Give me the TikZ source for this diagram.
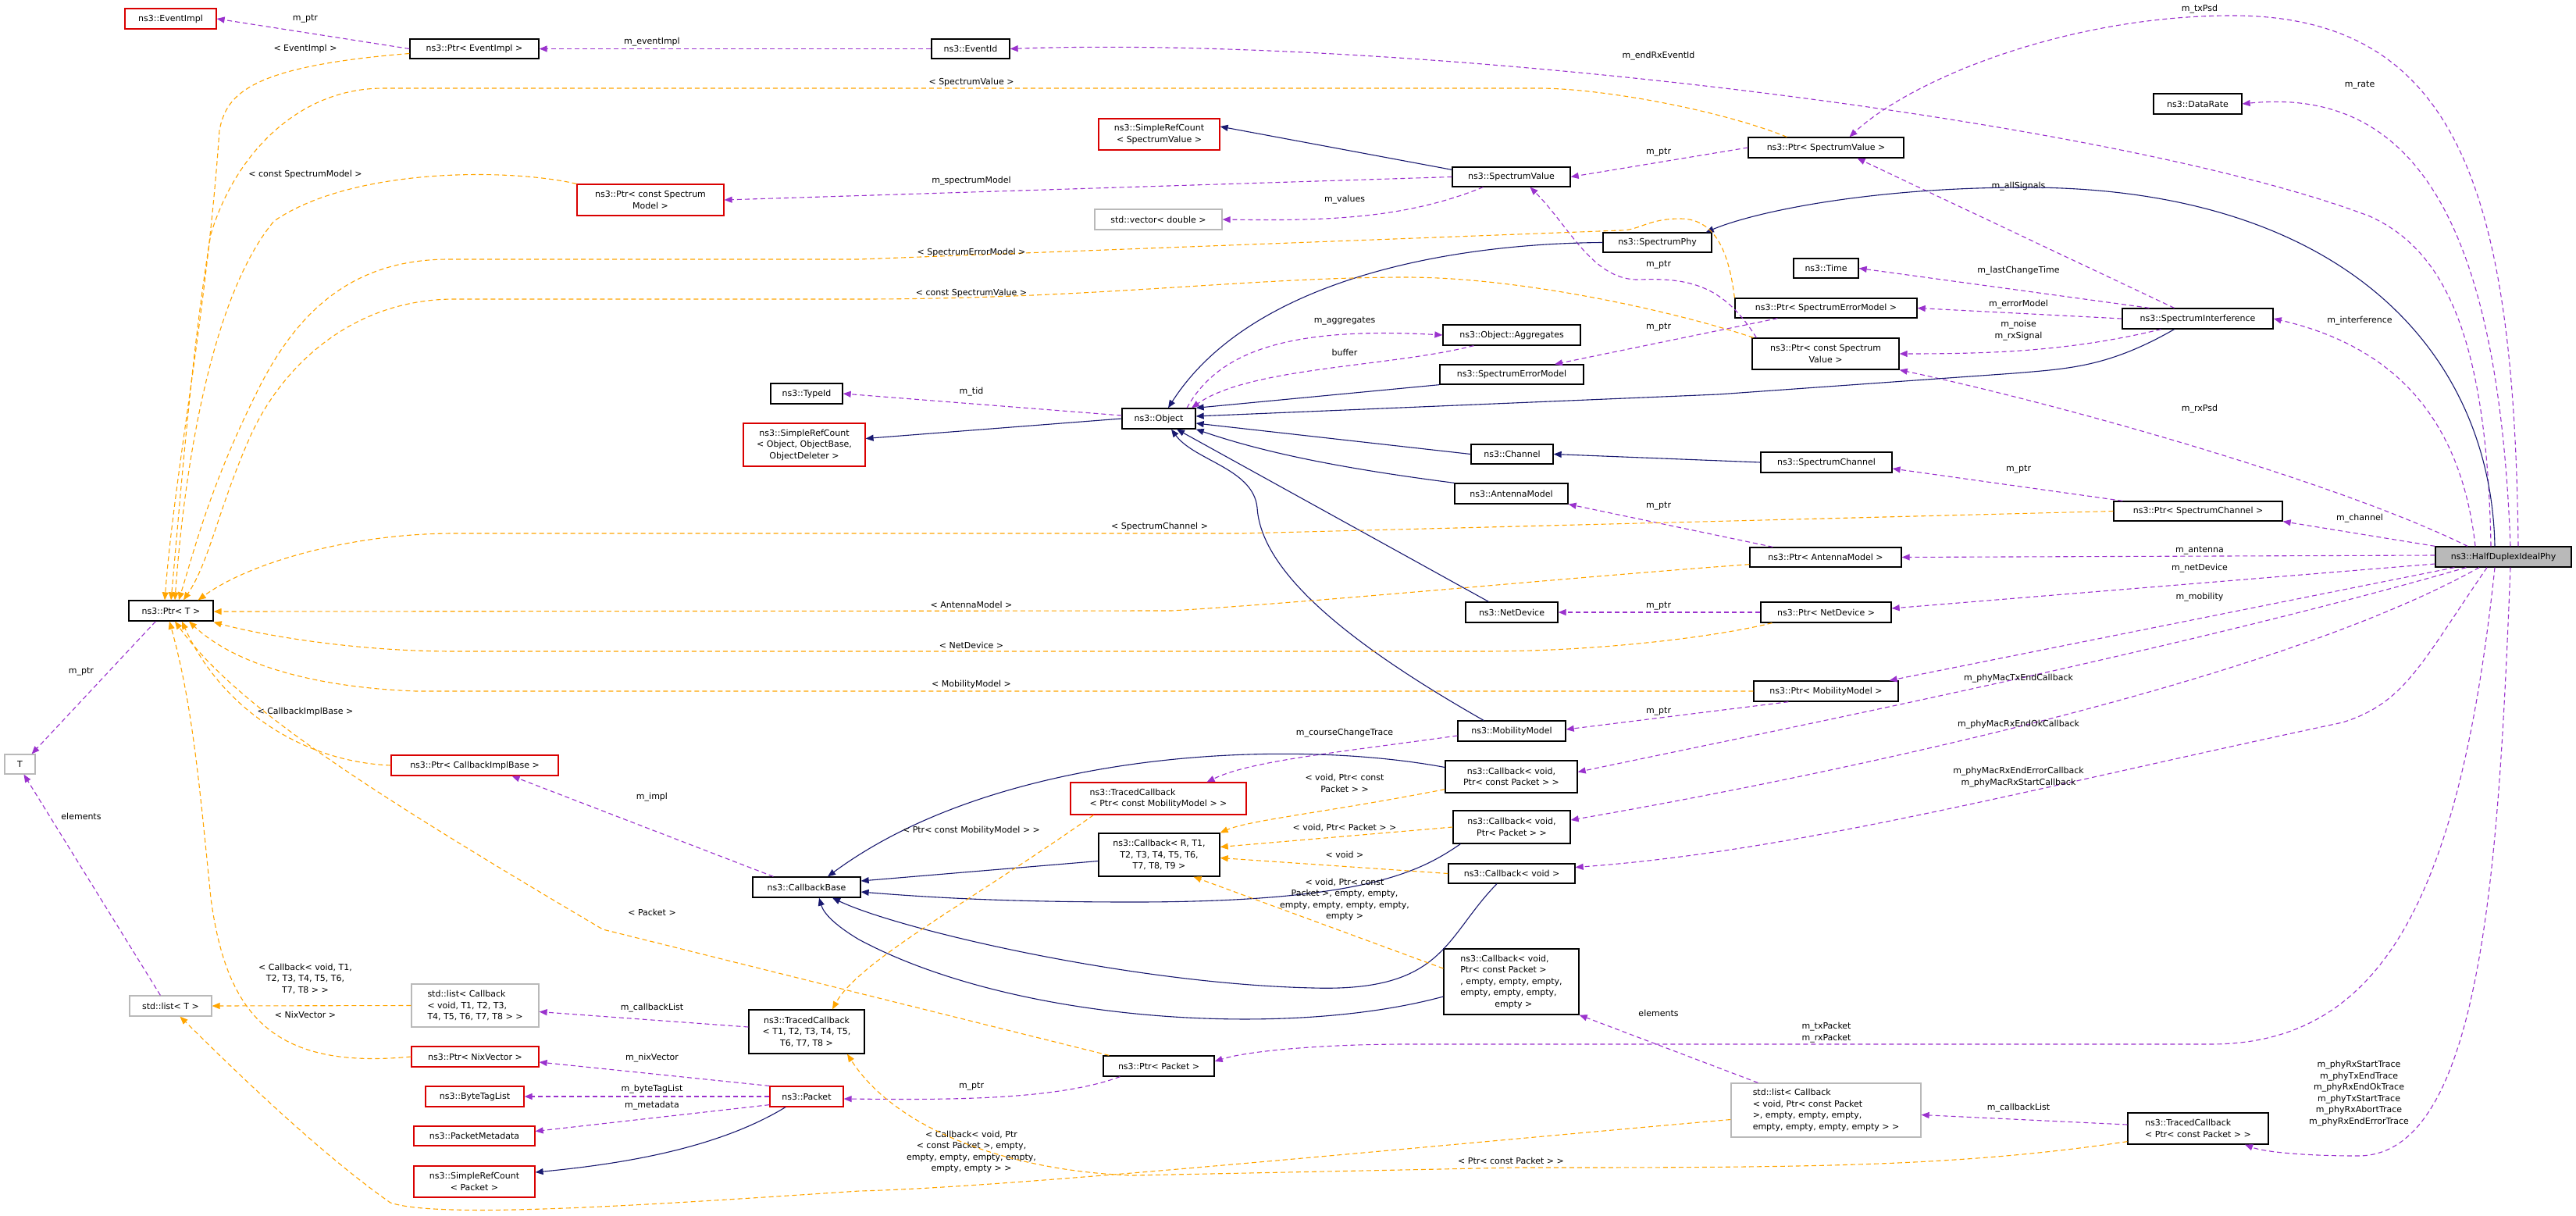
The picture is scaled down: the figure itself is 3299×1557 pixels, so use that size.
\documentclass[tikz,border=0pt]{standalone}
\usepackage{fontspec}
\setmainfont{DejaVu Sans}
\usetikzlibrary{arrows.meta,calc}
\definecolor{inhc}{HTML}{191970}
\definecolor{usec}{HTML}{9A32CD}
\definecolor{tplc}{HTML}{FFA500}
\begin{document}
\begin{tikzpicture}[x=1pt,y=-1pt,
  box/.style={draw=black,line width=1.3pt,rectangle,inner sep=2pt,font=\fontsize{11}{14.5}\selectfont,align=center},
  cls/.style={box},
  redbox/.style={box,draw=red!85!black,line width=1.2pt},
  greybox/.style={box,draw=gray!55,line width=1.2pt},
  lbl/.style={font=\fontsize{11}{14.5}\selectfont,align=center,inner sep=0pt},
  tip/.style={-{Triangle[length=10pt,width=8pt]}},
  inh/.style={tip,draw=inhc,line width=1.1pt},
  use/.style={tip,draw=usec,line width=1.1pt,dash pattern=on 6pt off 4pt},
  tpl/.style={tip,draw=tplc,line width=1.1pt,dash pattern=on 6pt off 4pt}]
\useasboundingbox (0,0) rectangle (3299,1557);
\fill[white] (0,0) rectangle (3299,1557);
% nodes
\node[redbox,minimum width=117,minimum height=26] (EventImpl) at (218.5,24) {ns3::EventImpl};
\node[cls,minimum width=165,minimum height=25] (PtrEI) at (607.5,62.5) {ns3::Ptr< EventImpl >};
\node[redbox,minimum width=188,minimum height=40] (PtrCSM) at (833,256) {ns3::Ptr< const Spectrum\\Model >};
\node[cls,minimum width=92,minimum height=26] (TypeId) at (1033,504) {ns3::TypeId};
\node[cls,minimum width=100,minimum height=25] (EventId) at (1243,62.5) {ns3::EventId};
\node[redbox,minimum width=155,minimum height=40] (SRCSV) at (1484.5,172) {ns3::SimpleRefCount\\< SpectrumValue >};
\node[cls,minimum width=151,minimum height=25] (SV) at (1935.5,226.5) {ns3::SpectrumValue};
\node[greybox,minimum width=163,minimum height=26] (Vec) at (1483.5,281) {std::vector< double >};
\node[cls,minimum width=139,minimum height=25] (SPhy) at (2122.5,310.5) {ns3::SpectrumPhy};
\node[cls,minimum width=176,minimum height=26] (Agg) at (1936,429) {ns3::Object::Aggregates};
\node[cls,minimum width=184,minimum height=25] (SEM) at (1936,479.5) {ns3::SpectrumErrorModel};
\node[cls,minimum width=199,minimum height=26] (PtrSV) at (2338.5,189) {ns3::Ptr< SpectrumValue >};
\node[cls,minimum width=113,minimum height=26] (DataRate) at (2814.5,133) {ns3::DataRate};
\node[cls,minimum width=83,minimum height=25] (Time) at (2338.5,343.5) {ns3::Time};
\node[cls,minimum width=233,minimum height=25] (PtrSEM) at (2338.5,394.5) {ns3::Ptr< SpectrumErrorModel >};
\node[cls,minimum width=193,minimum height=26] (SI) at (2814.5,408) {ns3::SpectrumInterference};
\node[cls,minimum width=188,minimum height=40] (PtrCSV) at (2338,453) {ns3::Ptr< const Spectrum\\Value >};
\node[redbox,minimum width=156,minimum height=55] (SRCObj) at (1030,569.5) {ns3::SimpleRefCount\\< Object, ObjectBase,\\ObjectDeleter >};
\node[cls,minimum width=108,minimum height=26] (PtrT) at (219,782) {ns3::Ptr< T >};
\node[greybox,minimum width=39,minimum height=25] (T) at (25.5,978.5) {T};
\node[redbox,minimum width=214,minimum height=26] (PtrCIB) at (608,980) {ns3::Ptr< CallbackImplBase >};
\node[cls,minimum width=94,minimum height=26] (Object) at (1484,536) {ns3::Object};
\node[cls,minimum width=105,minimum height=25] (Channel) at (1936.5,581.5) {ns3::Channel};
\node[cls,minimum width=145,minimum height=26] (AM) at (1935.5,632) {ns3::AntennaModel};
\node[cls,minimum width=118,minimum height=26] (ND) at (1936,784) {ns3::NetDevice};
\node[cls,minimum width=138,minimum height=26] (MM) at (1936,936) {ns3::MobilityModel};
\node[cls,minimum width=169,minimum height=41] (CbVPCP) at (1935.5,994.5) {ns3::Callback< void,\\Ptr< const Packet > >};
\node[redbox,minimum width=225,minimum height=41,align=left] (TCMob) at (1483.5,1022.5) {ns3::TracedCallback\\< Ptr< const MobilityModel > >};
\node[cls,minimum width=168,minimum height=26] (SC) at (2339,592) {ns3::SpectrumChannel};
\node[cls,minimum width=216,minimum height=25] (PtrSC) at (2815,654.5) {ns3::Ptr< SpectrumChannel >};
\node[cls,minimum width=194,minimum height=25] (PtrAM) at (2338,713.5) {ns3::Ptr< AntennaModel >};
\node[cls,fill=gray!55,minimum width=174,minimum height=26] (HDIP) at (3206,713) {ns3::HalfDuplexIdealPhy};
\node[cls,minimum width=167,minimum height=26] (PtrND) at (2338.5,784) {ns3::Ptr< NetDevice >};
\node[cls,minimum width=185,minimum height=26] (PtrMM) at (2338.5,885) {ns3::Ptr< MobilityModel >};
\node[cls,minimum width=138,minimum height=26] (CB) at (1033,1136) {ns3::CallbackBase};
\node[greybox,minimum width=105,minimum height=26] (ListT) at (218.5,1288) {std::list< T >};
\node[greybox,minimum width=163,minimum height=55,align=left] (ListCb) at (608.5,1287.5) {std::list< Callback\\< void, T1, T2, T3,\\ T4, T5, T6, T7, T8 > >};
\node[cls,minimum width=148,minimum height=56] (TCT) at (1033,1321) {ns3::TracedCallback\\< T1, T2, T3, T4, T5,\\T6, T7, T8 >};
\node[redbox,minimum width=163,minimum height=26] (PtrNix) at (608.5,1353) {ns3::Ptr< NixVector >};
\node[redbox,minimum width=94,minimum height=26] (Packet) at (1033,1404) {ns3::Packet};
\node[redbox,minimum width=126,minimum height=26] (BTL) at (608,1404) {ns3::ByteTagList};
\node[redbox,minimum width=155,minimum height=25] (PM) at (607.5,1454.5) {ns3::PacketMetadata};
\node[redbox,minimum width=155,minimum height=40] (SRCP) at (607.5,1513) {ns3::SimpleRefCount\\< Packet >};
\node[cls,minimum width=155,minimum height=55] (CbR) at (1484.5,1094.5) {ns3::Callback< R, T1,\\T2, T3, T4, T5, T6,\\T7, T8, T9 >};
\node[cls,minimum width=150,minimum height=42] (CbVPP) at (1936,1059) {ns3::Callback< void,\\Ptr< Packet > >};
\node[cls,minimum width=162,minimum height=25] (CbV) at (1936,1118.5) {ns3::Callback< void >};
\node[cls,minimum width=173,minimum height=84,align=left] (CbLong) at (1935.5,1257) {ns3::Callback< void,\\ Ptr< const Packet >\\ , empty, empty, empty,\\ empty, empty, empty,\\ \hspace*{4em}empty >};
\node[cls,minimum width=142,minimum height=26] (PtrP) at (1484,1365) {ns3::Ptr< Packet >};
\node[greybox,minimum width=243,minimum height=69,align=left] (ListCbP) at (2338.5,1421.5) {std::list< Callback\\< void, Ptr< const Packet\\ >, empty, empty, empty,\\ empty, empty, empty, empty > >};
\node[cls,minimum width=180,minimum height=40,align=left] (TCP) at (2815,1445) {ns3::TracedCallback\\< Ptr< const Packet > >};

% ---------------- purple usage edges
\draw[use] (PtrEI.west) -- (EventImpl.east);
\node[lbl] (l1) at (391,24) {m\_ptr};
\draw[use] (EventId.west) -- (PtrEI.east);
\node[lbl] (l2) at (835,54) {m\_eventImpl};
\draw[use] ($(HDIP.north)+(-16,0)$) .. controls (3185,430) and (3130,320) .. (3035,277) .. controls (2700,150) and (1800,45) .. (EventId.east);
\node[lbl] (l3) at (2124,72) {m\_endRxEventId};
\draw[use] ($(HDIP.north)+(19,0)$) .. controls (3220,250) and (3150,20) .. (2859,20) .. controls (2650,20) and (2450,100) .. ($(PtrSV.north)+(30,0)$);
\node[lbl] (l4) at (2817,12) {m\_txPsd};
\draw[use] ($(HDIP.north)+(9,0)$) .. controls (3200,300) and (3100,110) .. (DataRate.east);
\node[lbl] (l5) at (3022,109) {m\_rate};
\draw[use] (PtrSV.west) -- (SV.east);
\node[lbl] (l6) at (2124,195) {m\_ptr};
\draw[use] (SV.west) -- (PtrCSM.east);
\node[lbl] (l7) at (1244,232) {m\_spectrumModel};
\draw[use] ($(SV.south west)+(40,0)$) .. controls (1800,280) and (1700,283) .. (Vec.east);
\node[lbl] (l8) at (1722,256) {m\_values};
\draw[use] ($(SI.north)+(-30,0)$) -- ($(PtrSV.south)+(40,0)$);
\node[lbl] (l9) at (2585,239) {m\_allSignals};
\draw[use] ($(SI.north)+(-62,0)$) -- (Time.east);
\node[lbl] (l10) at (2585,347) {m\_lastChangeTime};
\draw[use] (SI.west) -- (PtrSEM.east);
\node[lbl] (l11) at (2585,390) {m\_errorModel};
\draw[use] ($(SI.south west)+(50,0)$) .. controls (2650,450) and (2550,453) .. (PtrCSV.east);
\node[lbl] (l12) at (2585,423) {m\_noise\\m\_rxSignal};
\draw[use] ($(HDIP.north)+(-36,0)$) .. controls (3150,520) and (3050,440) .. (SI.east);
\node[lbl] (l13) at (3022,411) {m\_interference};
\draw[use] ($(PtrCSV.north west)+(6,0)$) .. controls (2210,370) and (2170,355) .. (2100,358) .. controls (2040,360) and (2010,290) .. ($(SV.south)+(24,0)$);
\node[lbl] (l14) at (2124,339) {m\_ptr};
\draw[use] ($(PtrSEM.south west)+(55,0)$) -- ($(SEM.north)+(55,0)$);
\node[lbl] (l15) at (2124,419) {m\_ptr};
\draw[use] ($(Object.north)+(36,0)$) .. controls (1560,450) and (1650,418) .. (Agg.west);
\node[lbl] (l16) at (1722,411) {m\_aggregates};
\draw[use] ($(Agg.south west)+(40,0)$) .. controls (1780,470) and (1600,470) .. ($(Object.north)+(42,0)$);
\node[lbl] (l17) at (1722,451) {buffer};
\draw[use] ($(Object.west)+(0,-4)$) -- (TypeId.east);
\node[lbl] (l18) at (1244,502) {m\_tid};
\draw[use] ($(HDIP.north)+(-46,0)$) .. controls (3000,620) and (2650,520) .. (PtrCSV.south east);
\node[lbl] (l19) at (2817,524) {m\_rxPsd};
\draw[use] ($(PtrSC.north west)+(12,0)$) -- ($(SC.east)+(0,8)$);
\node[lbl] (l20) at (2585,601) {m\_ptr};
\draw[use] (HDIP.north west) -- (PtrSC.south east);
\node[lbl] (l21) at (3022,664) {m\_channel};
\draw[use] ($(PtrAM.north west)+(30,0)$) -- (AM.south east);
\node[lbl] (l22) at (2124,648) {m\_ptr};
\draw[use] ($(HDIP.west)+(0,-2)$) -- (PtrAM.east);
\node[lbl] (l23) at (2817,705) {m\_antenna};
\draw[use] (PtrND.west) -- (ND.east);
\node[lbl] (l24) at (2124,776) {m\_ptr};
\draw[use] ($(HDIP.west)+(0,9)$) -- ($(PtrND.east)+(0,-5)$);
\node[lbl] (l25) at (2817,728) {m\_netDevice};
\draw[use] ($(HDIP.south west)+(25,0)$) -- ($(PtrMM.north east)+(-12,0)$);
\node[lbl] (l26) at (2817,765) {m\_mobility};
\draw[use] ($(PtrMM.south west)+(45,0)$) -- ($(MM.east)+(0,-2)$);
\node[lbl] (l27) at (2124,911) {m\_ptr};
\draw[use] ($(MM.west)+(0,6)$) .. controls (1700,965) and (1600,975) .. ($(TCMob.north)+(62,0)$);
\node[lbl] (l28) at (1722,939) {m\_courseChangeTrace};
\draw[use] ($(HDIP.south west)+(40,0)$) .. controls (2800,830) and (2300,930) .. ($(CbVPCP.east)+(0,-6)$);
\node[lbl] (l29) at (2585,869) {m\_phyMacTxEndCallback};
\draw[use] ($(HDIP.south)+(-31,0)$) .. controls (2900,880) and (2300,1000) .. ($(CbVPP.east)+(0,-9)$);
\node[lbl] (l30) at (2585,928) {m\_phyMacRxEndOkCallback};
\draw[use] ($(HDIP.south)+(-21,0)$) .. controls (3100,850) and (3080,900) .. (3000,925) .. controls (2600,1010) and (2300,1090) .. ($(CbV.east)+(0,-8)$);
\node[lbl] (l31) at (2585,995) {m\_phyMacRxEndErrorCallback\\m\_phyMacRxStartCallback};
\draw[use] ($(HDIP.south)+(-11,0)$) .. controls (3150,1150) and (3050,1337) .. (2831,1337) -- (1801,1337) .. controls (1700,1337) and (1600,1345) .. ($(PtrP.east)+(0,-6)$);
\node[lbl] (l32) at (2339,1322) {m\_txPacket\\m\_rxPacket};
\draw[use] ($(HDIP.south)+(9,0)$) .. controls (3200,1100) and (3180,1480) .. (3020,1480) .. controls (2950,1480) and (2900,1475) .. ($(TCP.south)+(60,0)$);
\node[lbl] (l33) at (3021,1400) {m\_phyRxStartTrace\\m\_phyTxEndTrace\\m\_phyRxEndOkTrace\\m\_phyTxStartTrace\\m\_phyRxAbortTrace\\m\_phyRxEndErrorTrace};
\draw[use] ($(TCP.west)+(0,-5)$) -- ($(ListCbP.east)+(0,6)$);
\node[lbl] (l34) at (2585,1419) {m\_callbackList};
\draw[use] ($(ListCbP.north west)+(35,0)$) -- ($(CbLong.south east)+(0,0)$);
\node[lbl] (l35) at (2124,1297) {elements};
\draw[use] ($(PtrP.south west)+(22,0)$) .. controls (1350,1410) and (1200,1408) .. ($(Packet.east)+(0,3)$);
\node[lbl] (l36) at (1244,1391) {m\_ptr};
\draw[use] ($(Packet.north west)+(0,0)$) -- ($(PtrNix.east)+(0,7)$);
\node[lbl] (l37) at (835,1355) {m\_nixVector};
\draw[use] (Packet.west) -- (BTL.east);
\node[lbl] (l38) at (835,1395) {m\_byteTagList};
\draw[use] ($(Packet.south west)+(0,-3)$) -- ($(PM.east)+(0,-6)$);
\node[lbl] (l39) at (835,1416) {m\_metadata};
\draw[use] ($(TCT.west)+(0,-6)$) -- ($(ListCb.east)+(0,8)$);
\node[lbl] (l40) at (835,1291) {m\_callbackList};
\draw[use] ($(CB.north west)+(27,0)$) -- ($(PtrCIB.south east)+(-60,0)$);
\node[lbl] (l41) at (835,1021) {m\_impl};
\draw[use] ($(PtrT.south west)+(35,0)$) -- ($(T.north east)+(-5,0)$);
\node[lbl] (l42) at (104,860) {m\_ptr};
\draw[use] ($(ListT.north west)+(40,0)$) -- ($(T.south)+(5,0)$);
\node[lbl] (l43) at (104,1045) {elements};

% ---------------- navy inheritance edges
\draw[inh] ($(SV.north west)+(0,4)$) -- ($(SRCSV.east)+(0,-10)$);
\draw[inh] ($(HDIP.north)+(-11,0)$) .. controls (3190,450) and (3000,240) .. (2593,240) .. controls (2400,240) and (2250,270) .. ($(SPhy.north east)+(-8,0)$);
\draw[inh] (SPhy.west) .. controls (1850,312) and (1600,360) .. ($(Object.north)+(12,0)$);
\draw[inh] ($(SI.south)+(-30,0)$) .. controls (2700,470) and (2650,472) .. (2579,478) -- (2200,505) -- ($(Object.east)+(0,-3)$);
\draw[inh] (SEM.south west) -- (Object.north east);
\draw[inh] (Object.west) -- ($(SRCObj.east)+(0,-8)$);
\draw[inh] (Channel.west) -- ($(Object.east)+(0,6)$);
\draw[inh] (SC.west) -- (Channel.east);
\draw[inh] (AM.north west) .. controls (1720,600) and (1620,580) .. ($(Object.south east)+(0,0)$);
\draw[inh] ($(ND.north west)+(30,0)$) -- ($(Object.south)+(23,0)$);
\draw[inh] ($(MM.north)+(-36,0)$) .. controls (1720,820) and (1615,730) .. (1610,650) .. controls (1605,600) and (1530,590) .. ($(Object.south)+(16,0)$);
\draw[inh] ($(CbVPCP.west)+(0,-12)$) .. controls (1650,945) and (1280,960) .. ($(CB.north)+(27,0)$);
\draw[inh] ($(CbR.west)+(0,8)$) -- ($(CB.east)+(0,-8)$);
\draw[inh] ($(CbVPP.south west)+(10,0)$) .. controls (1820,1115) and (1750,1155) .. (1451,1155) .. controls (1300,1155) and (1200,1150) .. ($(CB.east)+(0,6)$);
\draw[inh] ($(CbV.south)+(-19,0)$) .. controls (1850,1200) and (1850,1270) .. (1682,1265) .. controls (1450,1260) and (1150,1190) .. ($(CB.south)+(33,0)$);
\draw[inh] ($(CbLong.west)+(0,19)$) .. controls (1650,1330) and (1300,1310) .. (1100,1203) .. controls (1070,1185) and (1055,1170) .. ($(CB.south)+(16,0)$);
\draw[inh] ($(Packet.south)+(-27,0)$) .. controls (920,1470) and (800,1490) .. ($(SRCP.east)+(0,-12)$);

% ---------------- orange template edges
\draw[tpl] ($(PtrEI.west)+(0,6)$) .. controls (320,85) and (290,120) .. (281,167) .. controls (265,400) and (224,600) .. ($(PtrT.north)+(-8,0)$);
\node[lbl] (t1) at (391,62) {< EventImpl >};
\draw[tpl] ($(PtrSV.north west)+(50,0)$) .. controls (2200,140) and (2050,113) .. (1970,113) -- (491,113) .. controls (380,113) and (300,200) .. (270,300) .. controls (245,450) and (230,650) .. ($(PtrT.north)+(0,0)$);
\node[lbl] (t2) at (1244,105) {< SpectrumValue >};
\draw[tpl] (PtrCSM.north west) .. controls (650,215) and (450,215) .. (351,283) .. controls (270,380) and (236,600) .. ($(PtrT.north)+(5,0)$);
\node[lbl] (t3) at (391,223) {< const SpectrumModel >};
\draw[tpl] (PtrSEM.north west) .. controls (2215,330) and (2200,280) .. (2152,280) .. controls (2110,280) and (2100,295) .. (2075,295) -- (1100,332) -- (575,332) .. controls (450,332) and (380,400) .. (330,500) .. controls (270,620) and (250,700) .. ($(PtrT.north)+(10,0)$);
\node[lbl] (t4) at (1244,323) {< SpectrumErrorModel >};
\draw[tpl] ($(PtrCSV.north west)+(2,0)$) .. controls (2150,400) and (1950,355) .. (1801,355) .. controls (1600,355) and (1400,383) .. (1100,383) -- (582,383) .. controls (450,383) and (360,470) .. (320,560) .. controls (280,650) and (268,720) .. ($(PtrT.north)+(16,0)$);
\node[lbl] (t5) at (1244,375) {< const SpectrumValue >};
\draw[tpl] (PtrSC.west) -- (1591,683) -- (582,683) .. controls (450,683) and (320,720) .. ($(PtrT.north east)+(-20,0)$);
\node[lbl] (t6) at (1485,674) {< SpectrumChannel >};
\draw[tpl] ($(PtrAM.south west)+(0,-4)$) .. controls (2000,740) and (1700,770) .. (1500,782) -- ($(PtrT.east)+(0,1)$);
\node[lbl] (t7) at (1244,774) {< AntennaModel >};
\draw[tpl] ($(PtrND.south west)+(15,0)$) .. controls (2200,815) and (2050,834) .. (1900,834) -- (582,834) .. controls (450,834) and (330,812) .. ($(PtrT.south east)+(0,1)$);
\node[lbl] (t8) at (1244,826) {< NetDevice >};
\draw[tpl] (PtrMM.west) -- (533,885) .. controls (400,880) and (300,850) .. ($(PtrT.south)+(23,0)$);
\node[lbl] (t9) at (1244,876) {< MobilityModel >};
\draw[tpl] (PtrCIB.west) .. controls (380,975) and (280,900) .. ($(PtrT.south)+(14,0)$);
\node[lbl] (t10) at (391,911) {< CallbackImplBase >};
\draw[tpl] ($(PtrP.north west)+(8,0)$) -- (772,1190) .. controls (450,1000) and (300,900) .. ($(PtrT.south)+(5,0)$);
\node[lbl] (t11) at (835,1168) {< Packet >};
\draw[tpl] (PtrNix.west) .. controls (350,1370) and (290,1300) .. (270,1150) .. controls (255,1000) and (246,900) .. ($(PtrT.south)+(-2,0)$);
\node[lbl] (t12) at (391,1299) {< NixVector >};
\draw[tpl] (ListCb.west) -- (ListT.east);
\node[lbl] (t13) at (391,1253) {< Callback< void, T1,\\T2, T3, T4, T5, T6,\\T7, T8 > >};
\draw[tpl] ($(ListCbP.west)+(0,12)$) .. controls (1800,1470) and (1300,1520) .. (1100,1525) .. controls (800,1545) and (560,1560) .. (500,1540) .. controls (400,1470) and (280,1350) .. ($(ListT.south)+(12,0)$);
\node[lbl] (t14) at (1244,1475) {< Callback< void, Ptr\\< const Packet >, empty,\\empty, empty, empty, empty,\\empty, empty > >};
\draw[tpl] ($(TCMob.south west)+(30,0)$) .. controls (1250,1150) and (1100,1230) .. ($(TCT.north)+(33,0)$);
\node[lbl] (t15) at (1244,1063) {< Ptr< const MobilityModel > >};
\draw[tpl] ($(TCP.south west)+(0,-4)$) .. controls (2500,1495) and (2300,1495) .. (1942,1495) -- (1451,1505) .. controls (1300,1500) and (1150,1450) .. ($(TCT.south)+(52,0)$);
\node[lbl] (t16) at (1935,1486) {< Ptr< const Packet > >};
\draw[tpl] ($(CbVPCP.south west)+(0,-5)$) .. controls (1700,1040) and (1600,1050) .. (CbR.north east);
\node[lbl] (t17) at (1722,1003) {< void, Ptr< const\\Packet > >};
\draw[tpl] (CbVPP.west) -- ($(CbR.east)+(0,-10)$);
\node[lbl] (t18) at (1722,1060) {< void, Ptr< Packet > >};
\draw[tpl] (CbV.west) -- ($(CbR.east)+(0,4)$);
\node[lbl] (t19) at (1722,1094) {< void >};
\draw[tpl] ($(CbLong.west)+(0,-17)$) -- ($(CbR.south)+(44,0)$);
\node[lbl] (t20) at (1722,1152) {< void, Ptr< const\\Packet >, empty, empty,\\empty, empty, empty, empty,\\empty >};
\end{tikzpicture}
\end{document}
